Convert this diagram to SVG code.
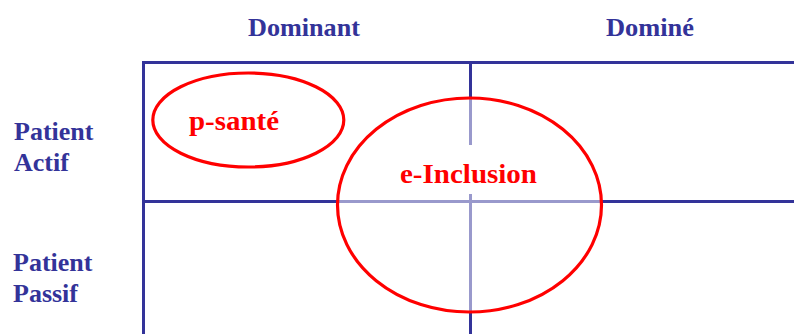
<svg xmlns="http://www.w3.org/2000/svg" width="794" height="334" viewBox="0 0 794 334">
<style>
.grid{stroke:#333399;stroke-width:3;fill:none}
.hdr{font-family:"Liberation Serif","Times New Roman",serif;font-weight:bold;font-size:26px;fill:#333399}
.red{font-family:"Liberation Serif","Times New Roman",serif;font-weight:bold;font-size:28px;fill:#ff0000}
.ell{stroke:#ff0000;stroke-width:3.2}
</style>
<rect width="794" height="334" fill="#ffffff"/>
<g id="grid">
<line class="grid" x1="143.5" y1="62.5" x2="794" y2="62.5"/>
<line class="grid" x1="143.5" y1="201.5" x2="794" y2="201.5"/>
<line class="grid" x1="143.5" y1="61" x2="143.5" y2="334"/>
<line class="grid" x1="470.5" y1="61" x2="470.5" y2="334"/>
</g>
<g id="headers">
<text class="hdr" x="248" y="36" textLength="112" lengthAdjust="spacingAndGlyphs">Dominant</text>
<text class="hdr" x="606" y="36" textLength="88" lengthAdjust="spacingAndGlyphs">Dominé</text>
<text class="hdr" x="14" y="140">Patient</text>
<text class="hdr" x="14" y="171">Actif</text>
<text class="hdr" x="13" y="271">Patient</text>
<text class="hdr" x="13" y="302">Passif</text>
</g>
<g id="p-sante">
<ellipse class="ell" cx="248.3" cy="120" rx="95.5" ry="47" fill="none"/>
<text class="red" x="189" y="130" textLength="90" lengthAdjust="spacingAndGlyphs">p-santé</text>
</g>
<g id="e-inclusion">
<ellipse cx="469.5" cy="205" rx="132" ry="107" fill="#ffffff" fill-opacity="0.5"/>
<rect x="400" y="145" width="138" height="49" fill="#ffffff"/>
<ellipse class="ell" cx="469.5" cy="205" rx="132" ry="107" fill="none"/>
<text class="red" x="400" y="183" textLength="137" lengthAdjust="spacingAndGlyphs">e-Inclusion</text>
</g>
</svg>
